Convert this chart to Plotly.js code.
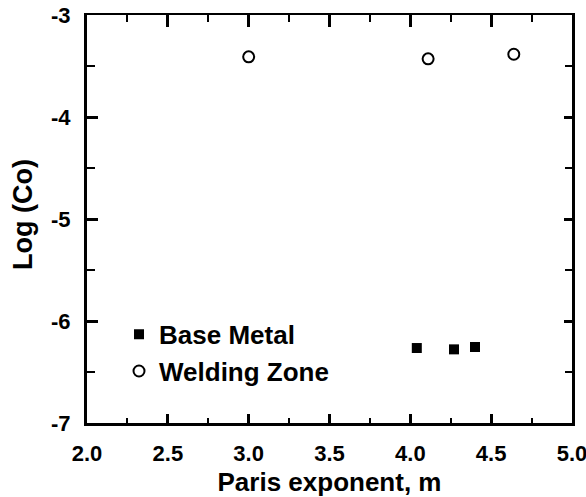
<!DOCTYPE html>
<html>
<head>
<meta charset="utf-8">
<script src="https://cdn.plot.ly/plotly-3.0.1.min.js"></script>
<style>
html,body{margin:0;padding:0;background:#fff;}
#chart{width:586px;height:497px;}
#chart .xtick text, #chart .ytick text { font-weight: bold !important; }
</style>
</head>
<body>
<div id="chart"></div>
<script>
const baseMetalM = [4.04, 4.27, 4.40];
const baseMetalLogC = [-6.265, -6.278, -6.255];
const weldingM = [3.00, 4.11, 4.64];
const weldingLogC = [-3.41, -3.43, -3.385];
const xTickVals = [2.0, 2.5, 3.0, 3.5, 4.0, 4.5, 5.0];
const xTickText = ["2.0", "2.5", "3.0", "3.5", "4.0", "4.5", "5.0"];
const yTickVals = [-7, -6, -5, -4, -3];
const yTickText = ["-7", "-6", "-5", "-4", "-3"];
const yTitle = "Log (Co)";
const xTitle = "Paris exponent, m";

const fontFam = '"Liberation Sans", Arial, sans-serif';
const bold = s => '<b>' + s + '</b>';

const traces = [
  {
    x: baseMetalM, y: baseMetalLogC, type: 'scatter', mode: 'markers',
    name: bold('Base Metal'), legendgroup: 'a',
    marker: {symbol: 'square', size: 10, color: '#000'}
  },
  {
    x: weldingM, y: weldingLogC, type: 'scatter', mode: 'markers',
    name: bold('Welding Zone'), legendgroup: 'b',
    marker: {symbol: 'circle-open', size: 11, color: '#000', line: {width: 2, color: '#000'}}
  },
  {
    x: [2.0], y: [-7], xaxis: 'x2', yaxis: 'y2', type: 'scatter', mode: 'markers',
    showlegend: false, hoverinfo: 'skip', marker: {opacity: 0}
  }
];

const layout = {
  width: 586, height: 497,
  margin: {l: 87, r: 14, t: 15, b: 74},
  paper_bgcolor: '#fff', plot_bgcolor: '#fff',
  font: {family: fontFam, color: '#000', size: 21},
  showlegend: true,
  legend: {
    x: 0.066, y: 0.275, xanchor: 'left', yanchor: 'top',
    bgcolor: 'rgba(0,0,0,0)', borderwidth: 0,
    font: {family: fontFam, size: 26, color: '#000'},
    traceorder: 'grouped', tracegroupgap: 0
  },
  annotations: [
    {
      text: bold(yTitle), xref: 'paper', yref: 'paper', x: 0, y: 0.5,
      xanchor: 'center', yanchor: 'middle', xshift: -64, yshift: 4,
      textangle: -90, showarrow: false,
      font: {family: fontFam, size: 27, color: '#000'}
    }
  ],
  xaxis: {
    range: [2.0, 5.0], tickvals: xTickVals, ticktext: xTickText,
    showgrid: false, zeroline: false,
    showline: true, linewidth: 3, linecolor: '#000', mirror: false,
    ticks: 'inside', ticklen: 9, tickwidth: 3, tickcolor: '#000',
    minor: {dtick: 0.25, tick0: 2.0, ticks: 'inside', ticklen: 5, tickwidth: 2, tickcolor: '#000', showgrid: false},
    tickfont: {family: fontFam, size: 22, weight: 'bold'},
    ticklabeloverflow: 'allow', ticklabelstandoff: 9,
    title: {text: bold(xTitle), font: {family: fontFam, size: 26}, standoff: 12}
  },
  yaxis: {
    range: [-7, -3], tickvals: yTickVals, ticktext: yTickText,
    showgrid: false, zeroline: false,
    showline: true, linewidth: 3, linecolor: '#000', mirror: false,
    ticks: 'inside', ticklen: 11, tickwidth: 3, tickcolor: '#000',
    minor: {dtick: 0.5, tick0: -7, ticks: 'inside', ticklen: 8, tickwidth: 2, tickcolor: '#000', showgrid: false},
    tickfont: {family: fontFam, size: 22, weight: 'bold'},
    ticklabeloverflow: 'allow', ticklabelstandoff: 9
  },
  xaxis2: {
    overlaying: 'x', side: 'top', anchor: 'y2', range: [2.0, 5.0], tickvals: xTickVals,
    showticklabels: false, showgrid: false, zeroline: false,
    showline: true, linewidth: 2, linecolor: '#000',
    ticks: 'inside', ticklen: 12, tickwidth: 3, tickcolor: '#000',
    minor: {dtick: 0.25, tick0: 2.0, ticks: 'inside', ticklen: 7, tickwidth: 2, tickcolor: '#000', showgrid: false}
  },
  yaxis2: {
    overlaying: 'y', side: 'right', anchor: 'x2', range: [-7, -3], tickvals: yTickVals,
    showticklabels: false, showgrid: false, zeroline: false,
    showline: true, linewidth: 3, linecolor: '#000',
    ticks: 'inside', ticklen: 8, tickwidth: 3, tickcolor: '#000',
    minor: {dtick: 0.5, tick0: -7, ticks: 'inside', ticklen: 7, tickwidth: 2, tickcolor: '#000', showgrid: false}
  }
};

Plotly.newPlot('chart', traces, layout, {staticPlot: true, displayModeBar: false});
</script>
</body>
</html>
